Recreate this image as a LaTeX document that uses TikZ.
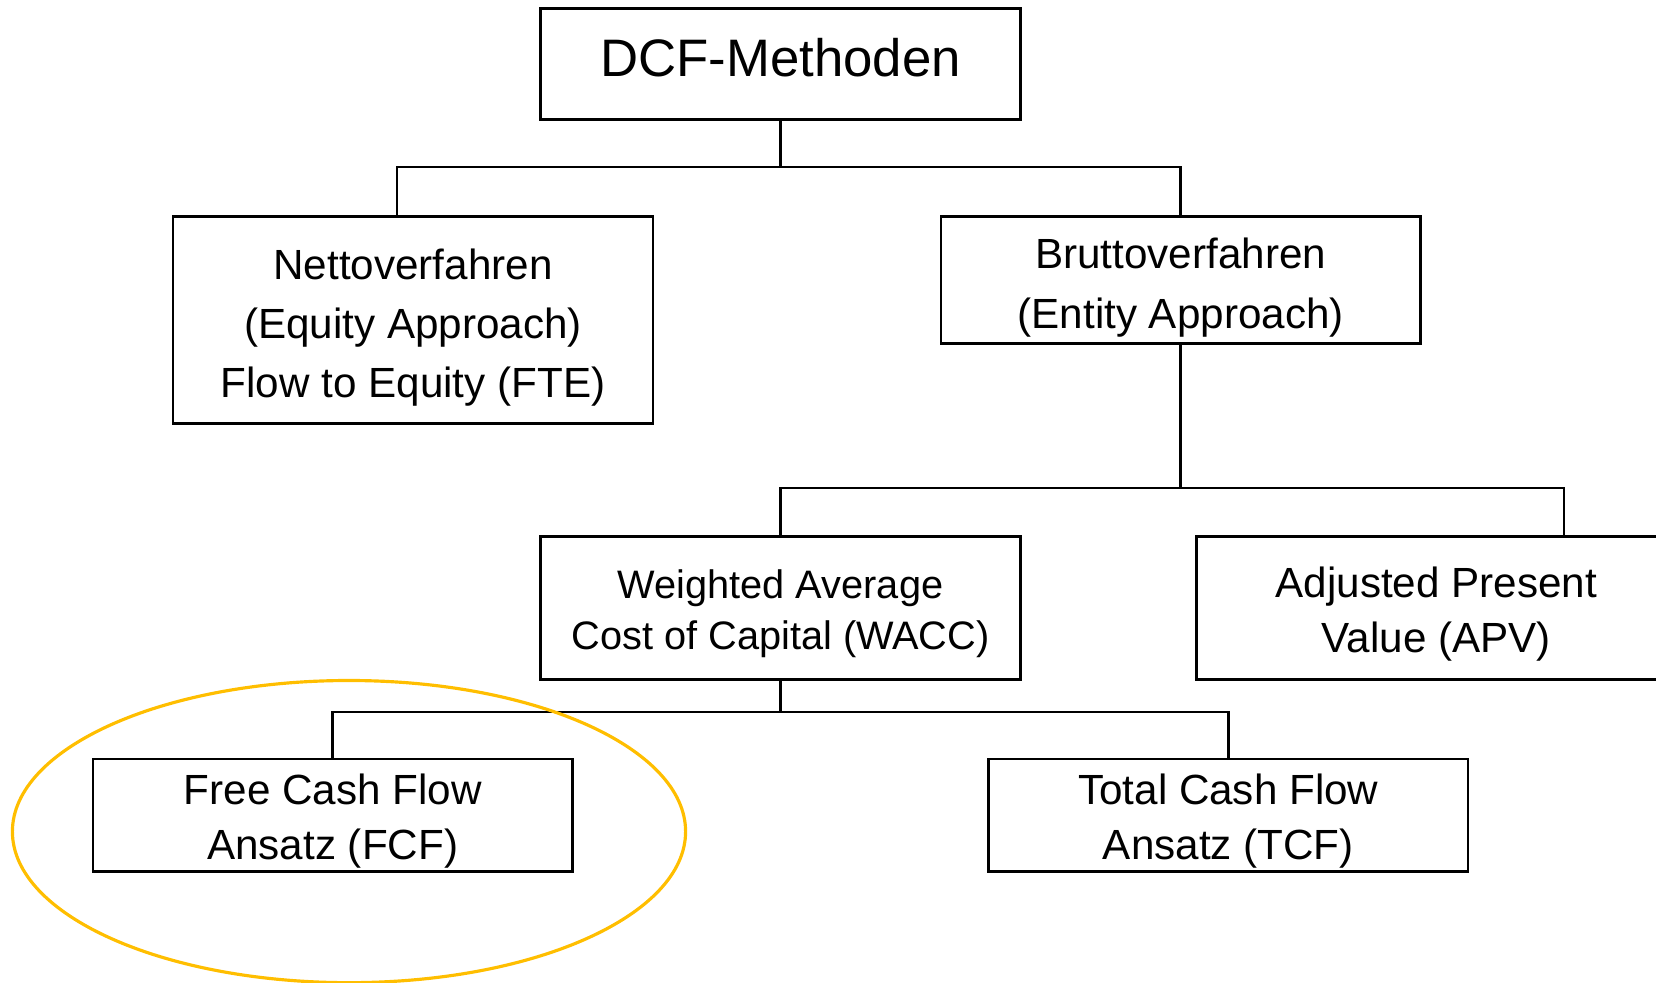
\documentclass[tikz,border=0pt]{standalone}
\usepackage{fontspec}
\setmainfont{Liberation Sans}
\definecolor{ovalgold}{RGB}{255,190,0}

\begin{document}
\begin{tikzpicture}[x=0.01cm,y=-0.01cm,
	box/.style={draw, line width=0.7pt, minimum width=4.795cm, align=center, inner sep=0pt,
		font=\fontsize{12}{16.8}\selectfont},
	link/.style={line width=0.7pt},
	oval/.style={draw=ovalgold, line width=0.9pt}]
	\path[use as bounding box, clip] (0,0) rectangle (1656,983);
	% Top level
	\node[ box, text height=0.677cm, text depth=0.433cm, font=\fontsize{15}{18}\selectfont ] (dcf) at (780.5,64) {DCF-Methoden};
	% Second level
	\node[ box, text height=1.809cm, text depth=0.261cm ] (netto) at (413,320) {Nettoverfahren\\(Equity Approach)\\Flow to Equity (FTE)};
	\node[ box, text height=1.115cm, text depth=0.155cm ] (brutto) at (1180.7,280) {Bruttoverfahren\\(Entity Approach)};
	% Third level
	\node[ box, text height=1.124cm, text depth=0.302cm, font=\fontsize{11.3}{14.4}\selectfont ] (wacc) at (780.5,608) {Weighted Average\\Cost of Capital (WACC)};
	\node[ box, text height=1.154cm, text depth=0.272cm, font=\fontsize{12}{15.6}\selectfont ] (apv) at (1436.4,608) {Adjusted Present\\Value (APV)};
	% Fourth level
	\node[ box, text height=1.0cm, text depth=0.12cm, font=\fontsize{12}{15.6}\selectfont ] (fcf) at (332.7,815.3) {Free Cash Flow\\Ansatz (FCF)};
	\node[ box, text height=1.0cm, text depth=0.12cm, font=\fontsize{12}{15.6}\selectfont ] (tcf) at (1228.3,815.3) {Total Cash Flow\\Ansatz (TCF)};
	% Connectors from DCF-Methoden
	\coordinate (nettojoin) at (397.1,167);
	\draw[ link ] (dcf.south) -- (dcf.south |- nettojoin);
	\draw[ link ] (nettojoin |- netto.north) -- (nettojoin) -| (brutto.north);
	% Connectors from Bruttoverfahren
	\coordinate (apvjoin) at (1564,488);
	\draw[ link ] (brutto.south) -- (brutto.south |- apvjoin);
	\draw[ link ] (wacc.north) |- (apvjoin) -- (apvjoin |- apv.north);
	% Connectors from WACC
	\coordinate (waccjoin) at (780.5,712);
	\draw[ link ] (wacc.south) -- (waccjoin);
	\draw[ link ] (fcf.north) |- (waccjoin) -| (tcf.north);
	% Highlight of FCF
	\draw[ oval ] (349,831.6) ellipse [x radius=3.364cm, y radius=1.51cm];
\end{tikzpicture}
\end{document}
